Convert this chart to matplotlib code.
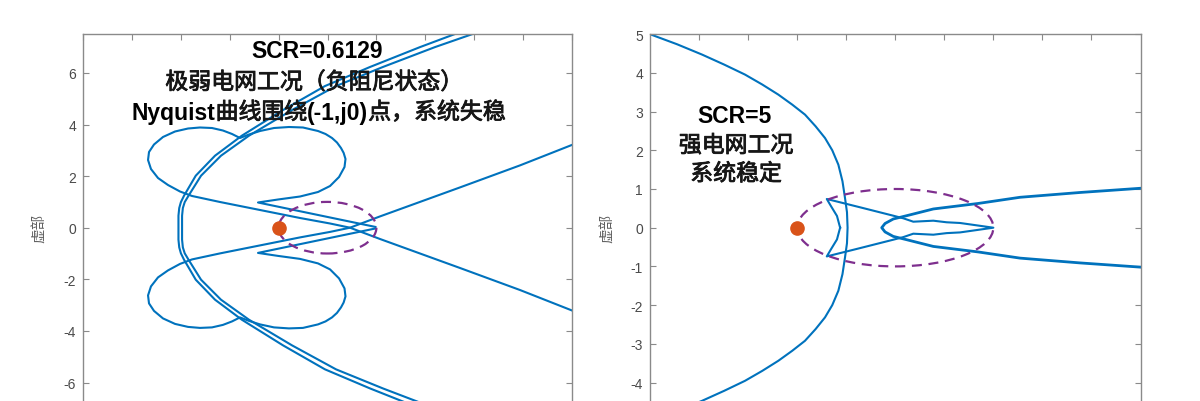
import matplotlib
matplotlib.use("Agg")
import matplotlib.pyplot as plt
import matplotlib.patheffects as pe
import numpy as np
from matplotlib.patches import Ellipse

# ---------------- data (upper halves; Nyquist plots are mirrored about the real axis) -------------
# Left panel (SCR = 0.6129)
left_outer_re = [-2.024, -2.024, -2.016, -1.999, -1.967, -1.847, -1.650, -1.376, -0.955, -0.526, -0.065, 0.446, 0.855, 1.264]
left_outer_im = [0.0, 0.465, 0.762, 0.992, 1.240, 2.016, 2.791, 3.566, 4.56, 5.49, 6.23, 7.00, 7.58, 8.17]
left_inner_re = [-1.987, -1.987, -1.979, -1.960, -1.921, -1.793, -1.589, -1.303, -0.863, -0.413, 0.067, 0.599, 1.039, 1.47]
left_inner_im = [0.0, 0.465, 0.762, 0.992, 1.240, 2.016, 2.791, 3.566, 4.56, 5.49, 6.23, 7.00, 7.58, 8.17]

left_loop_re = [-0.01, -1.211, -1.006, -0.781, -0.597, -0.474, -0.382, -0.326, -0.316, -0.335, -0.362, -0.403,
                -0.454, -0.520, -0.597, -0.751, -0.894, -1.047, -1.190, -1.303, -1.395,
                -1.476, -1.569, -1.681, -1.804, -1.926, -2.059, -2.182, -2.274, -2.325, -2.335,
                -2.305, -2.233, -2.131, -2.008, -1.885, -1.599, -1.190, -0.781, -0.474, -0.270,
                0.037, 0.855, 1.468, 2.0, 2.286]
left_loop_im = [0.03, 0.977, 1.093, 1.209, 1.384, 1.616, 1.965, 2.353, 2.663, 2.90, 3.089, 3.302,
                3.477, 3.632, 3.748, 3.884, 3.903, 3.864, 3.748, 3.612, 3.477,
                3.632, 3.767, 3.864, 3.884, 3.845, 3.729, 3.516, 3.225, 2.934, 2.624,
                2.275, 1.926, 1.655, 1.403, 1.229, 0.996, 0.686, 0.376, 0.163, 0.0,
                -0.438, -1.562, -2.415, -3.209, -3.616]

# Right panel (SCR = 5)
right_outer_re = [-0.743, -0.746, -0.756, -0.769, -0.790, -0.821, -0.858, -0.906, -0.960, -1.025,
                  -1.096, -1.178, -1.266, -1.372, -1.485, -1.612, -1.75, -1.90]
right_outer_im = [0.0, 0.4, 0.765, 1.2, 1.629, 2.0, 2.317, 2.62, 2.922, 3.18,
                  3.439, 3.70, 3.957, 4.215, 4.474, 4.74, 5.0, 5.28]

right_hf_re = [0.0, -0.170, -0.238, -0.306, -0.408, -0.459, -0.510, -0.680, -0.849, -0.828, -0.797, -0.781]
right_hf_im = [0.0, 0.122, 0.140, 0.181, 0.155, 0.243, 0.310, 0.528, 0.742, 0.561, 0.303, 0.0]

right_fish_re = [-0.569, -0.552, -0.510, -0.442, -0.306, -0.078, 0.136, 0.442, 0.750, 0.798]
right_fish_im = [0.0, 0.109, 0.225, 0.310, 0.484, 0.626, 0.786, 0.910, 1.019, 1.040]

critical_point = (-1.0, 0.0)
ellipse_center = (-0.5, 0.0)
ellipse_size = (1.0, 2.0)

left_yticks = [-6, -4, -2, 0, 2, 4, 6]
right_yticks = [-4, -3, -2, -1, 0, 1, 2, 3, 4, 5]
left_xticks = [-3, -2.5, -2, -1.5, -1, -0.5, 0, 0.5, 1, 1.5, 2]
right_xticks = [-1.5, -1.25, -1, -0.75, -0.5, -0.25, 0, 0.25, 0.5]

left_title = "SCR=0.6129"
left_line2 = "极弱电网工况（负阻尼状态）"
left_line3 = [("Nyquist", "latin"), ("曲线围绕", "cjk"), ("(-1,j0)", "latin"), ("点，系统失稳", "cjk")]
right_texts = ["SCR=5", "强电网工况", "系统稳定"]
ylabel = "虚部"

# ---------------- style ------------------------------------------------------------------------
BLUE = "#0072BD"
ORANGE = "#D95319"
PURPLE = "#7E2F8E"
SPINE = "#8a8a8a"
TICKC = "#4a4a4a"
LW = 1.5

W, H = 1200, 402
fig = plt.figure(figsize=(12, 4.02), dpi=100)
fig.patch.set_facecolor("white")

top_px, bot_px = 35.2, 422.2
ax1 = fig.add_axes([83 / W, 1 - bot_px / H, 489 / W, (bot_px - top_px) / H])
ax2 = fig.add_axes([650 / W, 1 - bot_px / H, 490.5 / W, (bot_px - top_px) / H])


def mirror_closed(re, im):
    re = np.asarray(re, float)
    im = np.asarray(im, float)
    return np.concatenate([re[::-1], re]), np.concatenate([-im[::-1], im])


# left panel curves
for re, im in [(left_outer_re, left_outer_im), (left_inner_re, left_inner_im)]:
    x, y = mirror_closed(re, im)
    ax1.plot(x, y, color=BLUE, lw=LW, solid_joinstyle="round")
ax1.plot(left_loop_re, left_loop_im, color=BLUE, lw=LW, solid_joinstyle="round")
ax1.plot(left_loop_re, -np.asarray(left_loop_im), color=BLUE, lw=LW, solid_joinstyle="round")

# right panel curves
x, y = mirror_closed(right_outer_re, right_outer_im)
ax2.plot(x, y, color=BLUE, lw=LW, solid_joinstyle="round")
x, y = mirror_closed(right_hf_re, right_hf_im)
ax2.plot(x, y, color=BLUE, lw=LW, solid_joinstyle="round")
x, y = mirror_closed(right_fish_re, right_fish_im)
ax2.plot(x, y, color=BLUE, lw=LW + 0.5, solid_joinstyle="round")

for ax in (ax1, ax2):
    ax.add_patch(Ellipse(ellipse_center, ellipse_size[0], ellipse_size[1], fill=False,
                         edgecolor=PURPLE, lw=1.6, linestyle=(0, (4.5, 3)), zorder=3))
    ax.plot([critical_point[0]], [critical_point[1]], "o", color=ORANGE, ms=9.5, mec=ORANGE, zorder=4)

ax1.set_xlim(-3, 2)
ax1.set_ylim(-7.5, 7.5)
ax2.set_xlim(-1.75, 0.75)
ax2.set_ylim(-5, 5)
ax1.set_yticks(left_yticks)
ax1.set_yticklabels([str(v) for v in left_yticks])
ax2.set_yticks(right_yticks)
ax2.set_yticklabels([str(v) for v in right_yticks])
ax1.set_xticks(left_xticks)
ax2.set_xticks(right_xticks)

for ax in (ax1, ax2):
    for s in ax.spines.values():
        s.set_color(SPINE)
        s.set_linewidth(1.0)
    ax.tick_params(direction="in", length=4, width=0.8, color=SPINE, top=True, right=True,
                   labelsize=10, labelcolor=TICKC, pad=5)
    ax.tick_params(axis="x", labelbottom=False)
    for lab in ax.get_yticklabels():
        lab.set_fontfamily("Liberation Sans")
    ax.set_ylabel(ylabel, fontfamily="Noto Sans CJK SC", fontsize=10.5, color="#606060")

ax1.yaxis.set_label_coords(-0.074, 0.5)
ax2.yaxis.set_label_coords(-0.072, 0.5)

FS = 16.5
TXT = "#161616"
LATIN = dict(fontsize=FS, fontweight="bold", family=["Liberation Sans"], color="black")
CJK = dict(fontsize=FS, family=["Noto Sans CJK SC"], color=TXT,
           path_effects=[pe.withStroke(linewidth=0.6, foreground=TXT)])


def ftext(px, py, s, props):
    return fig.text(px / W, 1 - py / H, s, ha="center", va="center", **props)


def mixed_line(cx, cy, segments):
    renderer = fig.canvas.get_renderer()
    texts = []
    for s, kind in segments:
        props = LATIN if kind == "latin" else CJK
        t = fig.text(0, 1 - cy / H, s, ha="left", va="center", **props)
        texts.append(t)
    widths = [t.get_window_extent(renderer).width for t in texts]
    x = cx - sum(widths) / 2
    for t, w in zip(texts, widths):
        t.set_x(x / W)
        x += w


ftext(316.7, 52, left_title, LATIN)
ftext(314, 83.5, left_line2, CJK)
mixed_line(318.6, 113.5, left_line3)

ftext(734.4, 116.7, right_texts[0], LATIN)
ftext(736, 146.7, right_texts[1], CJK)
ftext(736, 175, right_texts[2], CJK)

fig.savefig("out.png", dpi=100, facecolor="white")
